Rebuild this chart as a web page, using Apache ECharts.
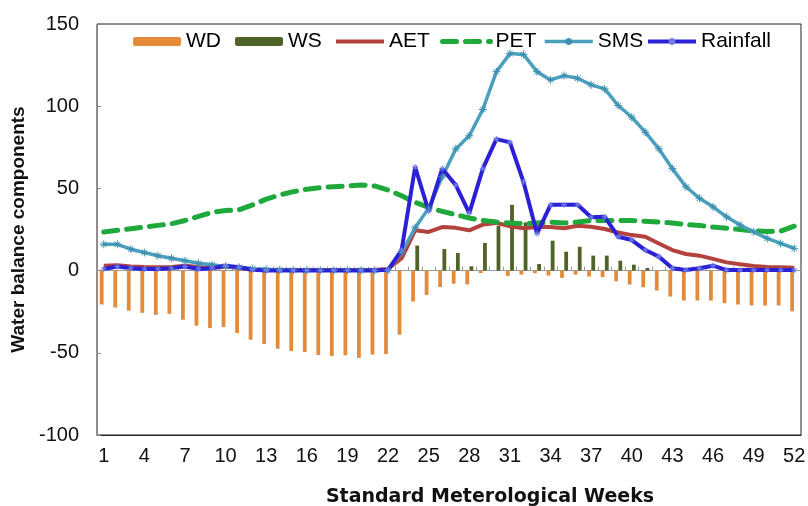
<!DOCTYPE html>
<html>
<head>
<meta charset="utf-8">
<script src="https://cdn.jsdelivr.net/npm/echarts@6/dist/echarts.min.js"></script>
<style>
html,body{margin:0;padding:0;background:#fff;}
#chart{width:808px;height:506px;}
</style>
</head>
<body>
<div id="chart"></div>
<script>
var weeks = ['1','2','3','4','5','6','7','8','9','10','11','12','13','14','15','16','17','18','19','20','21','22','23','24','25','26','27','28','29','30','31','32','33','34','35','36','37','38','39','40','41','42','43','44','45','46','47','48','49','50','51','52'];

var WD = [-20.6,-22.4,-24.4,-25.7,-26.9,-26.3,-29.9,-33.5,-35,-34.3,-38,-42,-44.6,-47.5,-48.9,-49.5,-51.3,-51.9,-51.5,-53.1,-51.1,-50.7,-39,-18.8,-14.8,-10,-8,-8.4,-1.5,0,-3.2,-2.4,-1.6,-3,-4.4,-2.4,-3.6,-4,-6.5,-8.5,-10.1,-12.1,-15.8,-18.2,-18.2,-18.2,-19.8,-20.6,-21.2,-21.2,-21.2,-24.8];

var WS = [0,0,0,0,0,0,0,0,0,0,0,0,0,0,0,0,0,0,0,0,0,0,0,15.2,0,13.1,10.7,2.6,16.8,27.3,40,29.3,4,18.2,11.5,14.5,9.1,9.1,6,3.6,1.6,0,0,0,0,0,0,0,0,0,0,0];

var AET = [3,3.3,2.5,2.2,2,2.2,3,2.2,1.5,2.5,1.5,0.5,0.3,0.3,0.3,0.3,0.3,0.3,0.3,0.3,0.3,1,7.5,24.5,23.5,26.5,26,24.5,28,29,27,25.7,26.5,26.5,25.8,27.3,26.7,25.3,23.2,21.6,20.6,16.5,12.5,10.1,9.1,7.1,5,3.8,2.8,2.2,2,1.8];

var PET = [23.5,24.5,25.5,26.5,27.5,28.5,30.5,33,35.5,36.5,37,40,43.5,46,48,49.5,50.5,51,51.5,52,51.5,49,45.5,41.5,38.5,36,34,32,30.5,29.5,29,28.5,29,29.5,29,29.5,30.5,30.5,30.5,30.5,30,29.5,29,28,27.5,26.5,25.7,25,24.2,23.8,24,27];

var SMS = [16,16,13,11,9,7.5,6,4.5,3.5,2.5,2,1.2,0.8,0.5,0.3,0.2,0.2,0.2,0.2,0.2,0.2,0.2,11,26,38,57,74,82,98,121,132,131.5,121,116,118.6,117,113,110.5,100.4,93.3,84.2,74.1,62,51,44,38.8,32.7,27.7,23.6,19.6,16.5,13.5];

var Rainfall = [1,2.5,1.5,1,1,1.5,2.5,1,1.5,3,2,0.5,0,0,0,0,0,0,0,0,0,0.5,12.5,63,36,62,52,35,62,80,78,54,22.5,40,40,40,32.5,32.7,20.6,18.6,12.5,8.5,1.4,0.3,1.4,3,0.3,0.3,0.3,0.3,0.3,0.3];

var seriesNames = ['WD','WS','AET','PET','SMS','Rainfall'];
var yTicks = {min:-100, max:150, interval:50};

var star = 'path://M5,0L5,10M0,5L10,5M1.6,1.6L8.4,8.4M1.6,8.4L8.4,1.6';
var FONT = 'Liberation Sans';
var legendLeft = [128, 230, 329, 435, 538, 641];
var legendLineWidth = {AET: 4, PET: 5, SMS: 3.5, Rainfall: 4};

function makeLegend(i) {
  var n = seriesNames[i];
  var item = {name: n};
  if (n === 'AET' || n === 'PET') item.itemStyle = {opacity: 0};
  if (legendLineWidth[n]) item.lineStyle = {width: legendLineWidth[n]};
  return {
    left: legendLeft[i], top: 26,
    itemWidth: 48, itemHeight: 9,
    textStyle: {fontFamily: FONT, fontSize: 21, color: '#000'},
    data: [item]
  };
}

var chart = echarts.init(document.getElementById('chart'), null, {renderer:'canvas'});
chart.setOption({
  animation: false,
  backgroundColor: '#fff',
  grid: {left: 97, right: 7, top: 24, bottom: 71, show: true, borderColor: '#222', borderWidth: 1,
         containLabel: false, outerBoundsMode: 'none'},
  legend: seriesNames.map(function(n, i){ return makeLegend(i); }),
  xAxis: [{
    type: 'category', data: weeks, boundaryGap: true,
    axisLine: {onZero: false, lineStyle: {color: '#222', width: 1}},
    axisTick: {show: false},
    axisLabel: {interval: 2, margin: 11, fontFamily: FONT, fontSize: 20, color: '#111'},
    name: 'Standard Meterological Weeks', nameLocation: 'middle', nameGap: 53,
    nameTextStyle: {fontFamily: 'DejaVu Sans', fontWeight: 'bold', fontSize: 19, color: '#111', padding: [0,0,0,82]}
  }, {
    type: 'category', data: weeks, boundaryGap: true, position: 'bottom',
    axisLine: {onZero: true, lineStyle: {color: '#9a9a9a', width: 1}},
    axisTick: {show: true, interval: 0, length: 4, inside: true, lineStyle: {color: '#9a9a9a'}},
    axisLabel: {show: false}
  }],
  yAxis: {
    type: 'value', min: yTicks.min, max: yTicks.max, interval: yTicks.interval,
    axisLine: {show: true, lineStyle: {color: '#888', width: 1}},
    axisTick: {show: true, inside: true, length: 4, lineStyle: {color: '#888'}},
    splitLine: {show: false},
    axisLabel: {margin: 18, fontFamily: FONT, fontSize: 20, color: '#111'},
    name: 'Water balance components', nameLocation: 'middle', nameGap: 62, nameRotate: 90,
    nameTextStyle: {fontFamily: FONT, fontWeight: 'bold', fontSize: 19, color: '#111'}
  },
  series: [
    {name: 'WD', type: 'bar', data: WD, barWidth: 3.8, barGap: '10%', itemStyle: {color: '#E38B3A'}},
    {name: 'WS', type: 'bar', data: WS, barWidth: 3.8, barGap: '10%', itemStyle: {color: '#4F6228'}},
    {name: 'AET', type: 'line', data: AET, symbol: 'none', lineStyle: {color: '#B3423D', width: 4}, itemStyle: {color: '#B3423D'}},
    {name: 'PET', type: 'line', data: PET, symbol: 'none', lineStyle: {color: '#1FA83C', width: 5, type: [14, 9], cap: 'round'}, itemStyle: {color: '#1FA83C'}},
    {name: 'SMS', type: 'line', data: SMS, symbol: star, symbolSize: 8, showSymbol: true,
      lineStyle: {color: '#4A9FBD', width: 3.5}, itemStyle: {color: '#4A9FBD', borderColor: '#3d8fb0', borderWidth: 1}},
    {name: 'Rainfall', type: 'line', data: Rainfall, symbol: star, symbolSize: 6, showSymbol: true,
      lineStyle: {color: '#2B20D4', width: 4}, itemStyle: {color: '#2B20D4', borderColor: '#6f7ee6', borderWidth: 1}}
  ]
});
</script>
</body>
</html>
